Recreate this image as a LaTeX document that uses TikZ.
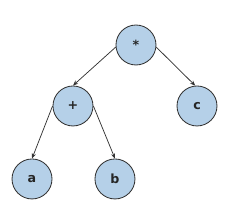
\documentclass[tikz,border=0pt]{standalone}
\usepackage{fontspec}
\setsansfont{DejaVu Sans}
\usepackage{tikz}
\usetikzlibrary{positioning,arrows.meta}
\definecolor{nodefill}{HTML}{B5D0E8}
\definecolor{edgec}{HTML}{333333}
\tikzset{
  treenode/.style={circle,draw=edgec,line width=0.8pt,fill=nodefill,minimum size=1.333cm,inner sep=0pt,
    font=\sffamily\bfseries\fontsize{12}{14}\selectfont,text=black!85},
  treeedge/.style={draw=edgec,line width=0.7pt,-{Stealth[length=5pt,width=4pt]}}
}

\begin{document}
\begin{tikzpicture}[scale=1]
  \useasboundingbox (0,0) rectangle (7.767,7.233);
  % operators
  \node[treenode] (opstar) at (4.533,5.733) {*};
  \node[treenode] (opplus) at (2.433,3.7) {+};
  % operands
  \node[treenode] (leafc) at (6.567,3.7) {c};
  \node[treenode] (leafa) at (1.067,1.267) {a};
  \node[treenode] (leafb) at (3.833,1.267) {b};
  % edges
  \draw[treeedge] (opstar.186) -- (opplus.north);
  \draw[treeedge] (opstar.-6) -- (leafc.95);
  \draw[treeedge] (opplus.west) -- (leafa.north);
  \draw[treeedge] (opplus.east) -- (leafb.north);
\end{tikzpicture}
\end{document}
